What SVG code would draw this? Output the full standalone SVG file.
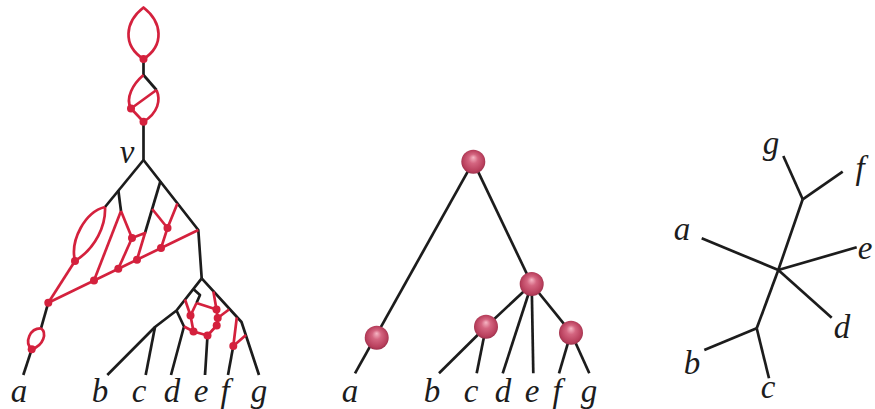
<svg xmlns="http://www.w3.org/2000/svg" width="875" height="409" viewBox="0 0 875 409">
<style>
.k{fill:none;stroke:#1c1c1c;stroke-width:2.7;stroke-linejoin:round}
.r{fill:none;stroke:#d4213d;stroke-width:2.7;stroke-linejoin:round}
.dot{fill:#d4213d}
.lbl{font-family:"Liberation Serif","DejaVu Serif",serif;font-style:italic;font-size:33px;fill:#1c1c1c;text-anchor:middle}
.ball{fill:url(#bg)}
</style>
<defs>
<radialGradient id="bg" cx="0.5" cy="0.5" r="0.55" fx="0.5" fy="0.32">
<stop offset="0" stop-color="#f6b6c4"/>
<stop offset="0.35" stop-color="#d46580"/>
<stop offset="0.8" stop-color="#b83f5c"/>
<stop offset="1" stop-color="#8f2a44"/>
</radialGradient>
</defs>

<!-- Tree 1: network -->
<g id="connectors-network">
<path class="r" d="M143.5,7.5 C125,22 122,45 143.5,59 C165,45 162,22 143.5,7.5 Z"/>
<path class="k" d="M143.5,59 V75"/>
<path class="k" d="M143.5,75 L156.5,90"/>
<path class="r" d="M156.5,90 C161,100 158,113 143.5,121.7"/>
<path class="r" d="M143.5,75 C133,84 125,98 131,108.5 L143.5,121.7"/>
<path class="r" d="M131,108.5 L156.5,90"/>
<path class="k" d="M143.5,121.7 V160"/>
<path class="k" d="M143.5,160 L105,207"/>
<path class="k" d="M118.3,190 L121,211"/>
<path class="k" d="M143.5,160 L198.3,230 L201.7,278.3"/>
<path class="k" d="M160.5,181 L145,233"/>
<path class="r" d="M105,207 C85,212 70,240 75,261"/>
<path class="r" d="M105,207 C106,225 96,248 75,261"/>
<path class="r" d="M75,261 L48.3,302.7"/>
<path class="r" d="M198.3,230 L48.3,302.7"/>
<path class="r" d="M121,211 L132,238"/>
<path class="r" d="M121,211 L94,280.5"/>
<path class="r" d="M132,238 L145,233 L137,259.7"/>
<path class="r" d="M132,238 L118.3,268.8"/>
<path class="r" d="M152.2,209 L167.5,228"/>
<path class="r" d="M177.4,203.5 L167.5,228 L161,248.1"/>
<path class="k" d="M48.3,302.7 L41,328.3"/>
<path class="r" d="M41,328.3 C30,328 24,342 31.7,349.3"/>
<path class="r" d="M41,328.3 C47,333 44,345 31.7,349.3"/>
<path class="k" d="M31.7,349.3 L23.3,375"/>
<path class="k" d="M201.7,278.3 L176.5,310.5 L155,327 L107.3,375"/>
<path class="k" d="M155,327 L145.7,375"/>
<path class="k" d="M176.5,310.5 L184,326.5 L171,375"/>
<path class="k" d="M201.7,278.3 L241.5,322 L259,375"/>
<path class="k" d="M193.3,289 L200,295 L196.5,303"/>
<path class="k" d="M207.5,335.5 L205,375"/>
<path class="k" d="M233.3,346 L228,375"/>
<path class="r" d="M185,299.5 L190.5,315.5"/>
<path class="r" d="M196.5,303 L190.5,315.5"/>
<path class="r" d="M196.5,303 L216.5,309.5"/>
<path class="r" d="M213.4,291.5 L216.5,309.5 L217.7,318 L216.7,325.5 L207.5,335.5"/>
<path class="r" d="M229,309.5 L217.7,318"/>
<path class="r" d="M190.5,315.5 L193.5,331.5 L207.5,335.5"/>
<path class="r" d="M184,326.5 L193.5,331.5"/>
<path class="r" d="M236.8,317.5 L233.3,346 L246,335"/>
</g>
<g id="nodes-network">
<circle class="dot" cx="143.5" cy="59" r="4"/>
<circle class="dot" cx="131" cy="108.5" r="4"/>
<circle class="dot" cx="143.5" cy="121.7" r="4"/>
<circle class="dot" cx="75" cy="261" r="4"/>
<circle class="dot" cx="48.3" cy="302.7" r="4"/>
<circle class="dot" cx="94" cy="280.5" r="4"/>
<circle class="dot" cx="118.3" cy="268.8" r="4"/>
<circle class="dot" cx="137" cy="259.7" r="4"/>
<circle class="dot" cx="161" cy="248.1" r="4"/>
<circle class="dot" cx="132" cy="238" r="4"/>
<circle class="dot" cx="167.5" cy="228" r="4"/>
<circle class="dot" cx="31.7" cy="349.3" r="4"/>
<circle class="dot" cx="190.5" cy="315.5" r="4"/>
<circle class="dot" cx="193.5" cy="331.5" r="4"/>
<circle class="dot" cx="207.5" cy="335.5" r="4"/>
<circle class="dot" cx="216.5" cy="309.5" r="4"/>
<circle class="dot" cx="217.7" cy="318" r="4"/>
<circle class="dot" cx="216.7" cy="325.5" r="4"/>
<circle class="dot" cx="233.3" cy="346" r="4"/>
<text class="lbl" x="127" y="163">v</text>
<text class="lbl" x="19" y="402">a</text>
<text class="lbl" x="100" y="402">b</text>
<text class="lbl" x="139" y="402">c</text>
<text class="lbl" x="172" y="402">d</text>
<text class="lbl" x="201" y="402">e</text>
<text class="lbl" x="225" y="402">f</text>
<text class="lbl" x="259" y="402">g</text>
</g>

<!-- Tree 2: rooted tree with balls -->
<g id="connectors-tree">
<path class="k" d="M473.3,161.7 L355,373.3"/>
<path class="k" d="M473.3,161.7 L531.7,284"/>
<path class="k" d="M531.7,284 L486,326.7"/>
<path class="k" d="M486,326.7 L439,373.3"/>
<path class="k" d="M486,326.7 L476.7,373.3"/>
<path class="k" d="M531.7,284 L502.7,373.3"/>
<path class="k" d="M531.7,284 L533.3,373.3"/>
<path class="k" d="M531.7,284 L571,332.7"/>
<path class="k" d="M571,332.7 L559,373.3"/>
<path class="k" d="M571,332.7 L589.3,373.3"/>
</g>
<g id="node-root"><circle class="ball" cx="473.3" cy="161.7" r="12"/></g>
<g id="node-a"><circle class="ball" cx="376.7" cy="337.7" r="12"/></g>
<g id="node-mid"><circle class="ball" cx="531.7" cy="284" r="12"/></g>
<g id="node-bc"><circle class="ball" cx="486" cy="326.7" r="12"/></g>
<g id="node-fg"><circle class="ball" cx="571" cy="332.7" r="12"/></g>
<g id="labels-tree">
<text class="lbl" x="350" y="402">a</text>
<text class="lbl" x="432" y="402">b</text>
<text class="lbl" x="471" y="402">c</text>
<text class="lbl" x="503" y="402">d</text>
<text class="lbl" x="532" y="402">e</text>
<text class="lbl" x="557" y="402">f</text>
<text class="lbl" x="589" y="402">g</text>
</g>

<!-- Tree 3: unrooted tree -->
<g id="connectors-unrooted">
<path class="k" d="M778.3,270 L802.7,199.3"/>
<path class="k" d="M802.7,199.3 L783.3,156"/>
<path class="k" d="M802.7,199.3 L842.7,171.7"/>
<path class="k" d="M778.3,270 L701.7,238.3"/>
<path class="k" d="M778.3,270 L856.7,247.3"/>
<path class="k" d="M778.3,270 L831.7,317.7"/>
<path class="k" d="M778.3,270 L756.7,328.3"/>
<path class="k" d="M756.7,328.3 L704.3,350"/>
<path class="k" d="M756.7,328.3 L769,378.3"/>
</g>
<g id="labels-unrooted">
<text class="lbl" x="771" y="154">g</text>
<text class="lbl" x="860" y="179">f</text>
<text class="lbl" x="682" y="240">a</text>
<text class="lbl" x="865" y="259">e</text>
<text class="lbl" x="842" y="338">d</text>
<text class="lbl" x="692" y="374">b</text>
<text class="lbl" x="768" y="398">c</text>
</g>
</svg>
